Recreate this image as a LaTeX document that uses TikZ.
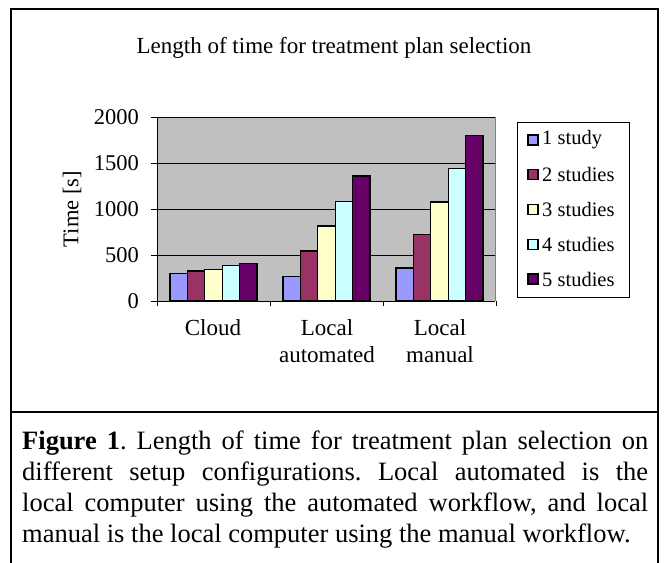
\documentclass[tikz,border=0pt]{standalone}
\usepackage{fontspec}
\setmainfont{Liberation Serif}
\frenchspacing
\definecolor{plotgray}{RGB}{192,192,192}
\definecolor{borderg}{RGB}{128,128,128}
\definecolor{sA}{RGB}{153,153,255}
\definecolor{sB}{RGB}{153,51,102}
\definecolor{sC}{RGB}{255,255,204}
\definecolor{sD}{RGB}{204,255,255}
\definecolor{sE}{RGB}{102,0,102}
\begin{document}
\begin{tikzpicture}[x=1pt,y=-1pt,
  barbox/.style={draw=black,line width=1.3pt},
  axisline/.style={draw=black,line width=1pt},
  ticklbl/.style={font=\fontsize{22.5}{26}\selectfont,inner sep=0pt},
  catlbl/.style={font=\fontsize{23}{27}\selectfont,inner sep=0pt,align=center},
  leglbl/.style={font=\fontsize{20.5}{24}\selectfont,inner sep=0pt,anchor=west},
  caplbl/.style={font=\fontsize{26.5}{31}\selectfont,inner sep=0pt,anchor=base west}]
\useasboundingbox (0,0) rectangle (666,562);
% frame
\draw[line width=2pt] (11,565) -- (11,9) -- (658,9) -- (658,565);
\draw[line width=2pt] (11,412) -- (658,412);
% title
\node[font=\fontsize{23}{27}\selectfont,inner sep=0pt] (title) at (334,48) {Length of time for treatment plan selection};
% plot area
\fill[plotgray] (157,117) rectangle (495,301);
\draw[borderg,line width=1pt] (495,117) -- (495,301);
\foreach \v in {500,1000,1500,2000}
  \draw[black,line width=0.9pt] (157,{301-\v*0.092}) -- (495,{301-\v*0.092});
% bars
\foreach \cat/\a/\b/\c/\d/\e in {0/300/325/340/385/410, 1/270/545/815/1085/1360, 2/360/720/1075/1440/1800} {
  \pgfmathsetmacro\bx{157+113*\cat+13.05}
  \draw[barbox,fill=sA] (\bx,301) rectangle ++(17.38,{-\a*0.092});
  \draw[barbox,fill=sB] ({\bx+17.38},301) rectangle ++(17.38,{-\b*0.092});
  \draw[barbox,fill=sC] ({\bx+2*17.38},301) rectangle ++(17.38,{-\c*0.092});
  \draw[barbox,fill=sD] ({\bx+3*17.38},301) rectangle ++(17.38,{-\d*0.092});
  \draw[barbox,fill=sE] ({\bx+4*17.38},301) rectangle ++(17.38,{-\e*0.092});
}
% axes
\draw[axisline] (157,117) -- (157,301) -- (495,301);
\foreach \v in {0,500,1000,1500,2000} {
  \draw[axisline] (151,{301-\v*0.092}) -- (157,{301-\v*0.092});
  \node[ticklbl,anchor=east] (yl\v) at (139,{301-\v*0.092}) {\v};
}
\foreach \x in {157,270,383,496}
  \draw[axisline] (\x,301) -- (\x,306);
\node[ticklbl,rotate=90] (ytitle) at (72,209) {Time [s]};
% category labels
\node[catlbl] (c1) at (213,328) {Cloud};
\node[catlbl] (c2) at (327,341.5) {Local\\automated};
\node[catlbl] (c3) at (440,341.5) {Local\\manual};
% legend
\draw[black,line width=0.8pt] (517,122) rectangle (629,297);
\foreach \i/\t/\col in {0/1 study/sA, 1/2 studies/sB, 2/3 studies/sC, 3/4 studies/sD, 4/5 studies/sE} {
  \pgfmathsetmacro\ly{140+34.75*\i}
  \draw[barbox,fill=\col] (528,{\ly-5}) rectangle (538,{\ly+5});
  \node[leglbl] (lg\i) at (542,\ly) {\t};
}
% caption
\node[caplbl] (cap1) at (22,449) {\makebox[626pt][s]{\textbf{Figure 1}. Length of time for treatment plan selection on}};
\node[caplbl] (cap2) at (22,480) {\makebox[626pt][s]{different setup configurations. Local automated is the}};
\node[caplbl] (cap3) at (22,511) {\makebox[626pt][s]{local computer using the automated workflow, and local}};
\node[caplbl] (cap4) at (22,542) {manual is the local computer using the manual workflow.};
\end{tikzpicture}
\end{document}
